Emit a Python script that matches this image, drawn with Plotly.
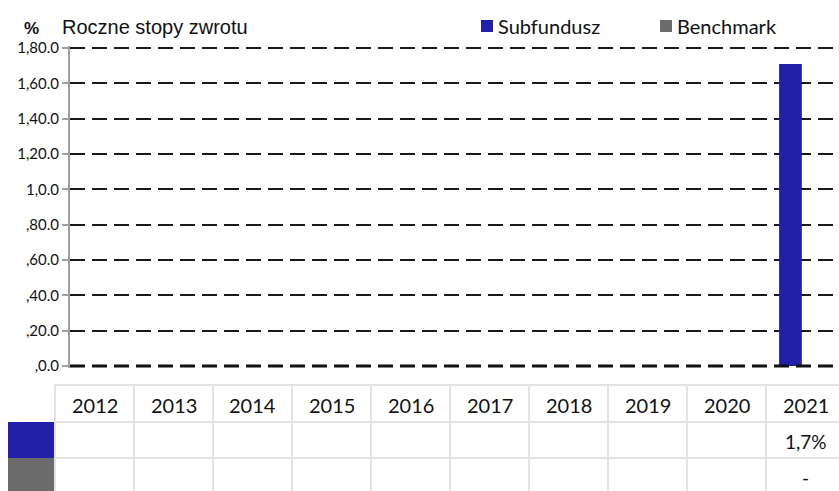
import plotly.graph_objects as go

# ---------------- data ----------------
years = ["2012", "2013", "2014", "2015", "2016", "2017", "2018", "2019", "2020", "2021"]
subfundusz = [None, None, None, None, None, None, None, None, None, 1.71]
benchmark = [None, None, None, None, None, None, None, None, None, None]
subfundusz_labels = ["", "", "", "", "", "", "", "", "", "1,7%"]
benchmark_labels = ["", "", "", "", "", "", "", "", "", "-"]
y_tickvals = [0, 0.2, 0.4, 0.6, 0.8, 1.0, 1.2, 1.4, 1.6, 1.8]
y_ticktext = [",0.0", ",20.0", ",40.0", ",60.0", ",80.0", "1,0.0", "1,20.0", "1,40.0", "1,60.0", "1,80.0"]
series_names = ["Subfundusz", "Benchmark"]
series_colors = ["#221FA8", "#6B6B6B"]

W, H = 839, 491
L, R, T, B = 70, 0, 46, 123
PW, PH = W - L - R, H - T - B
UNIT = 318 / 1.8  # pixels per 1.0 on the value axis
PAD = 2 / UNIT
FONT = "Lato"
TITLE_FONT = "Liberation Sans"


def px_x(px):
    return (px - L) / PW


def px_y(py):
    return (H - B - py) / PH


fig = go.Figure()
fig.add_trace(go.Bar(x=years, y=subfundusz, name=series_names[0],
                     marker=dict(color=series_colors[0], line=dict(width=0)),
                     width=0.3, showlegend=False))
fig.add_trace(go.Bar(x=years, y=benchmark, name=series_names[1],
                     marker=dict(color=series_colors[1], line=dict(width=0)),
                     width=0.3, showlegend=False))

shapes = []
annotations = []

# thicker zero line
shapes.append(dict(type="line", xref="paper", yref="y", x0=0, x1=1, y0=0, y1=0,
                   line=dict(color="#111111", width=3, dash="15px,7px"), layer="above"))

# titles
annotations.append(dict(text="<b>%</b>", x=px_x(22), y=px_y(29), xref="paper", yref="paper",
                        xanchor="left", yanchor="middle", showarrow=False,
                        font=dict(family=TITLE_FONT, size=17, color="#111111")))
annotations.append(dict(text="Roczne stopy zwrotu", x=px_x(60), y=px_y(27), xref="paper", yref="paper",
                        xanchor="left", yanchor="middle", showarrow=False,
                        font=dict(family=TITLE_FONT, size=20, color="#111111")))

# legend (manual)
leg_sq = [481, 660]
for i, name in enumerate(series_names):
    x0 = leg_sq[i]
    shapes.append(dict(type="rect", xref="paper", yref="paper",
                       x0=px_x(x0), x1=px_x(x0 + 12), y0=px_y(20), y1=px_y(32),
                       fillcolor=series_colors[i], line=dict(width=0)))
    annotations.append(dict(text=name, x=px_x(x0 + 15), y=px_y(26), xref="paper", yref="paper",
                            xanchor="left", yanchor="middle", showarrow=False,
                            font=dict(family=FONT, size=20, color="#111111")))

# table
tab_left, col_w = 55, 79
row_y = [385, 422, 458, 495]
grid_col = "#E3E3E3"
for yy in row_y[:3]:
    shapes.append(dict(type="line", xref="paper", yref="paper",
                       x0=px_x(tab_left), x1=px_x(W + 10), y0=px_y(yy), y1=px_y(yy),
                       line=dict(color=grid_col, width=2)))
for i in range(len(years) + 1):
    xx = tab_left + col_w * i
    shapes.append(dict(type="line", xref="paper", yref="paper",
                       x0=px_x(xx), x1=px_x(xx), y0=px_y(row_y[0]), y1=px_y(row_y[3]),
                       line=dict(color=grid_col, width=2)))
# colour swatches in first column
for r in range(2):
    shapes.append(dict(type="rect", xref="paper", yref="paper",
                       x0=px_x(8), x1=px_x(tab_left - 1), y0=px_y(row_y[r + 1]), y1=px_y(row_y[r + 2]),
                       fillcolor=series_colors[r], line=dict(width=0)))

rows_text = [years, subfundusz_labels, benchmark_labels]
for r, texts in enumerate(rows_text):
    yc = (row_y[r] + row_y[r + 1]) / 2 + 1
    if r == 2:
        yc = 478
    for i, t in enumerate(texts):
        if not t:
            continue
        xc = tab_left + col_w * (i + 0.5)
        annotations.append(dict(text=t, x=px_x(xc), y=px_y(yc), xref="paper", yref="paper",
                                xanchor="center", yanchor="middle", showarrow=False,
                                font=dict(family=FONT, size=20 if r == 0 else 19, color="#111111")))

fig.update_layout(
    width=W, height=H,
    margin=dict(l=L, r=R, t=T, b=B, pad=0),
    paper_bgcolor="white", plot_bgcolor="white",
    barmode="overlay",
    showlegend=False,
    shapes=shapes,
    annotations=annotations,
    xaxis=dict(type="category", range=[-0.5, 9.64], showticklabels=False,
               showgrid=False, zeroline=False, showline=False, ticks=""),
    yaxis=dict(range=[-PAD, 1.8 + PAD], tickvals=y_tickvals, ticktext=y_ticktext,
               showgrid=True, gridcolor="#1a1a1a", gridwidth=2, griddash="15px,7px",
               zeroline=False, showline=True, linecolor="#A0A0A0", linewidth=2,
               ticks="outside", ticklen=6, tickcolor="#A0A0A0", tickwidth=1.5,
               tickfont=dict(family=FONT, size=15, color="#111111")),
)

fig.write_html("out.html")
